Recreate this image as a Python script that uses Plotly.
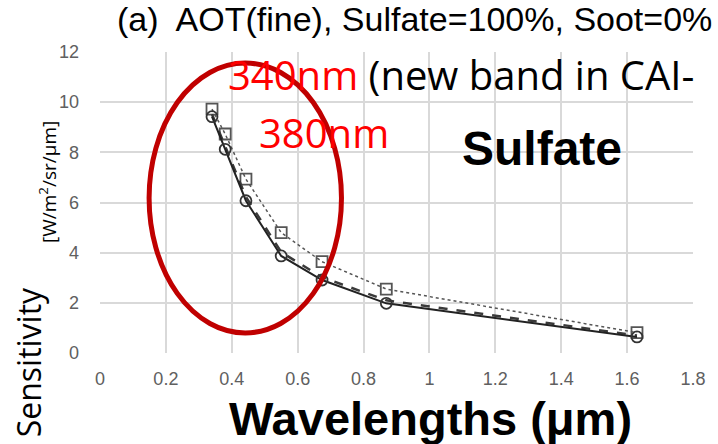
import plotly.graph_objects as go

wavelengths = [0.34, 0.38, 0.443, 0.55, 0.674, 0.869, 1.63]
solid_vals = [9.42, 8.12, 6.07, 3.87, 2.91, 1.98, 0.64]
dashed_vals = [9.52, 8.25, 6.22, 4.02, 3.02, 2.10, 0.70]
dotted_vals = [9.72, 8.73, 6.93, 4.80, 3.64, 2.55, 0.81]

x_ticks = [0, 0.2, 0.4, 0.6, 0.8, 1.0, 1.2, 1.4, 1.6, 1.8]
x_tick_labels = ["0", "0.2", "0.4", "0.6", "0.8", "1", "1.2", "1.4", "1.6", "1.8"]
y_ticks = [0, 2, 4, 6, 8, 10, 12]

fig = go.Figure()
fig.add_trace(go.Scatter(x=wavelengths, y=dotted_vals, mode="lines+markers",
                         line=dict(color="#555555", width=1.5, dash="dot"),
                         marker=dict(symbol="square-open", size=11, color="#555555",
                                     line=dict(width=1.8)),
                         showlegend=False))
fig.add_trace(go.Scatter(x=wavelengths, y=dashed_vals, mode="lines",
                         line=dict(color="#3a3a3a", width=2.5, dash="dash"),
                         showlegend=False))
fig.add_trace(go.Scatter(x=wavelengths, y=solid_vals, mode="lines+markers",
                         line=dict(color="#222222", width=2),
                         marker=dict(symbol="circle-open", size=11, color="#333333",
                                     line=dict(width=1.8)),
                         showlegend=False))

fig.add_shape(type="circle", xref="x", yref="y", x0=0.149, x1=0.733, y0=0.80, y1=11.56,
              line=dict(color="#c00000", width=5))

calibri_like = "Open Sans, sans-serif"
arial = "Liberation Sans, Arial, sans-serif"

annots = [
    dict(text="<span style='color:#ff0000'>340nm</span> (new band in CAI-",
         x=228, y=75, size=40, font=calibri_like),
    dict(text="<span style='color:#ff0000'>380nm</span>", x=260, y=132, size=40,
         font=calibri_like),
    dict(text="<b>Sulfate</b>", x=467, y=148, size=48, font=arial),
    dict(text="<b>Wavelengths (μm)</b>", x=229, y=419, size=47, font=arial),
    dict(text="(a)  AOT(fine), Sulfate=100%, Soot=0%", x=115, y=19, size=34, font=arial),
]
for a in annots:
    fig.add_annotation(text=a["text"], xref="paper", yref="paper",
                       x=(a["x"] - 100) / 604, y=(353 - a["y"]) / 301,
                       xanchor="left", yanchor="middle", showarrow=False,
                       font=dict(family=a["font"], size=a["size"], color="#000000"))

fig.add_annotation(text="Sensitivity", xref="paper", yref="paper",
                   x=(27 - 100) / 604, y=(353 - 362) / 301, textangle=-90,
                   xanchor="center", yanchor="middle", showarrow=False,
                   font=dict(family=calibri_like, size=32, color="#000000"))
fig.add_annotation(text="[W/m<sup>2</sup>/sr/μm]", xref="paper", yref="paper",
                   x=(47 - 100) / 604, y=(353 - 182) / 301, textangle=-90,
                   xanchor="center", yanchor="middle", showarrow=False,
                   font=dict(family=calibri_like, size=19, color="#000000"))

fig.update_layout(
    width=718, height=444,
    margin=dict(l=100, r=14, t=52, b=91),
    plot_bgcolor="white", paper_bgcolor="white",
    xaxis=dict(range=[0, 1.8], tickvals=x_ticks, ticktext=x_tick_labels,
               showgrid=True, gridcolor="#d9d9d9", gridwidth=1.5,
               zeroline=False, showline=False, ticks="",
               tickfont=dict(family=arial, size=18, color="#606060"),
               ticklabelstandoff=13),
    yaxis=dict(range=[0, 12], tickvals=y_ticks,
               showgrid=True, gridcolor="#d9d9d9", gridwidth=1.5,
               zeroline=False, showline=False, ticks="",
               tickfont=dict(family=arial, size=18, color="#606060"),
               ticklabelstandoff=20),
)

fig.write_html("out.html")
